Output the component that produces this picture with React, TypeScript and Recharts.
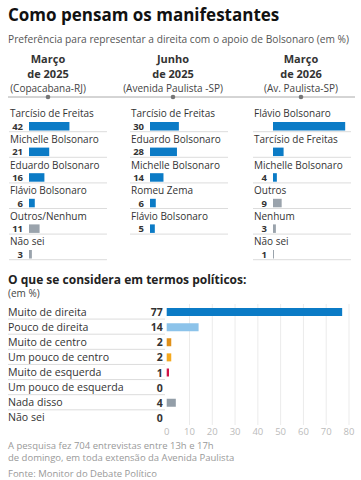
import React from "react";
import { BarChart, Bar, XAxis, YAxis, CartesianGrid, Cell } from "recharts";

// Pesquisas por ato
const periodMonths = ["Março", "Junho", "Março"];
const periodYears = ["de 2025", "de 2025", "de 2026"];
const periodPlaces = ["(Copacabana-RJ)", "(Avenida Paulista -SP)", "(Av. Paulista-SP)"];

const marchNames = ["Tarcísio de Freitas", "Michelle Bolsonaro", "Eduardo Bolsonaro", "Flávio Bolsonaro", "Outros/Nenhum", "Não sei"];
const marchValues = [42, 21, 16, 6, 11, 3];

const juneNames = ["Tarcísio de Freitas", "Eduardo Bolsonaro", "Michelle Bolsonaro", "Romeu Zema", "Flávio Bolsonaro"];
const juneValues = [30, 28, 14, 6, 5];

const march26Names = ["Flávio Bolsonaro", "Tarcísio de Freitas", "Michelle Bolsonaro", "Outros", "Nenhum", "Não sei"];
const march26Values = [75, 11, 4, 9, 3, 1];
// the two leading values are not printed in the original
const march26Printed = [false, false, true, true, true, true];

// Posicionamento político
const leaningNames = [
  "Muito de direita",
  "Pouco de direita",
  "Muito de centro",
  "Um pouco de centro",
  "Muito de esquerda",
  "Um pouco de esquerda",
  "Nada disso",
  "Não sei",
];
const leaningValues = [77, 14, 2, 2, 1, 0, 4, 0];
const axisTicks = [0, 10, 20, 30, 40, 50, 60, 70, 80];

const BLUE = "#0b7bc6";
const GRAY = "#9aa3ac";
const leaningColors = ["#0b7bc6", "#8cc3ea", "#e0901a", "#f5a91e", "#d11448", "#cccccc", "#939ea8", "#cccccc"];
const otherNames = ["Outros/Nenhum", "Outros", "Nenhum", "Não sei"];

const ROW = 25.6;
const FIRST_ROW = 112.5;

function CandidateRow(props: any) {
  const { x, y, width, height, payload } = props;
  const mid = y + height / 2;
  const fill = otherNames.includes(payload.name) ? GRAY : BLUE;
  return (
    <g>
      <text x={x - 19} y={mid - 12.8} fontSize={10} fill="#333" dominantBaseline="central">
        {payload.name}
      </text>
      {payload.printed && (
        <text x={x - 6} y={mid} fontSize={9.5} fontWeight={700} fill="#333" textAnchor="end" dominantBaseline="central">
          {payload.value}
        </text>
      )}
      <rect x={x} y={y} width={Math.max(width, 1)} height={height} fill={fill} />
      <line x1={x - 20} x2={x + 78} y1={y + height + 1.2} y2={y + height + 1.2} stroke="#dcdcdc" strokeWidth={1} />
    </g>
  );
}

function CandidateColumn({ names, values, printed, left, barStart }: any) {
  const data = names.map((name: string, i: number) => ({
    name,
    value: values[i],
    printed: printed ? printed[i] : true,
  }));
  const top = 14;
  const bottom = 4;
  const marginLeft = barStart - left;
  return (
    <div style={{ position: "absolute", left, top: FIRST_ROW - top }}>
      <BarChart
        layout="vertical"
        width={marginLeft + 77 + 6}
        height={top + bottom + ROW * data.length}
        data={data}
        margin={{ top, right: 6, bottom, left: marginLeft }}
      >
        <XAxis type="number" domain={[0, 80]} hide />
        <YAxis type="category" dataKey="name" hide />
        <Bar dataKey="value" barSize={8.5} isAnimationActive={false} shape={(p: any) => <CandidateRow {...p} />} />
      </BarChart>
    </div>
  );
}

// category name on the left, its value next to the bar (also printed for zeros)
function LeaningTick(props: any) {
  const { x, y, payload, index } = props;
  return (
    <g>
      <text x={8} y={y} fontSize={10.6} fill="#333" dominantBaseline="central">
        {payload.value}
      </text>
      <text x={x + 4} y={y + 0.5} fontSize={10.5} fontWeight={700} fill="#333" textAnchor="end" dominantBaseline="central">
        {leaningValues[index]}
      </text>
      {index < leaningNames.length - 1 && (
        <line x1={8} x2={165} y1={y + 7.5} y2={y + 7.5} stroke="#dcdcdc" strokeWidth={1} />
      )}
    </g>
  );
}

const colCenters = [48, 173, 301];

export default function App() {
  const leaningData = leaningNames.map((name, i) => ({ name, value: leaningValues[i] }));
  const abs = (top: number, left: number, extra: React.CSSProperties = {}): React.CSSProperties => ({
    position: "absolute",
    top,
    left,
    whiteSpace: "nowrap",
    ...extra,
  });
  const head: React.CSSProperties = {
    width: 120,
    textAlign: "center",
    fontSize: 11,
    fontWeight: 700,
    lineHeight: "15px",
    color: "#333",
  };

  return (
    <div
      style={{
        position: "relative",
        width: 361,
        height: 480,
        background: "#fff",
        fontFamily: "'Open Sans', sans-serif",
        color: "#333",
        overflow: "hidden",
      }}
    >
      <style>{"body{margin:0}"}</style>
      <div style={abs(4, 8, { fontSize: 17, fontWeight: 700, color: "#111", lineHeight: "22px" })}>
        Como pensam os manifestantes
      </div>
      <div style={abs(31.5, 8, { fontSize: 10.2, color: "#555", lineHeight: "14px" })}>
        Preferência para representar a direita com o apoio de Bolsonaro (em %)
      </div>

      {colCenters.map((cx, i) => (
        <React.Fragment key={i}>
          <div style={abs(51, cx - 60, head)}>{periodMonths[i]}</div>
          <div style={abs(66, cx - 60, head)}>{periodYears[i]}</div>
          <div style={abs(80.5, cx - 60, { width: 120, textAlign: "center", fontSize: 10, lineHeight: "14px", color: "#444" })}>
            {periodPlaces[i]}
          </div>
        </React.Fragment>
      ))}

      <svg style={abs(93, 0)} width={361} height={8}>
        <line x1={8} x2={355} y1={4} y2={4} stroke="#aaa" strokeWidth={1} />
        {colCenters.map((cx) => (
          <circle key={cx} cx={cx} cy={4} r={2.3} fill="#777" />
        ))}
      </svg>

      <CandidateColumn names={marchNames} values={marchValues} left={0} barStart={29} />
      <CandidateColumn names={juneNames} values={juneValues} left={122} barStart={150} />
      <CandidateColumn names={march26Names} values={march26Values} printed={march26Printed} left={247} barStart={273} />

      <div style={abs(271.5, 8, { fontSize: 12, fontWeight: 700, color: "#222", lineHeight: "16px" })}>
        O que se considera em termos políticos:
      </div>
      <div style={abs(286, 8, { fontSize: 10, color: "#444", lineHeight: "14px" })}>(em %)</div>

      <div style={abs(301.5, 0)}>
        <BarChart
          layout="vertical"
          width={361}
          height={139}
          data={leaningData}
          margin={{ top: 2, right: 12, bottom: 0, left: 8 }}
          barCategoryGap={0}
        >
          <CartesianGrid horizontal={false} vertical verticalValues={axisTicks.slice(1)} stroke="#ebebeb" />
          <XAxis
            type="number"
            domain={[0, 80]}
            ticks={axisTicks}
            axisLine={false}
            tickLine={false}
            tickSize={0}
            tickMargin={3}
            height={16}
            tick={{ fontSize: 9.5, fill: "#bbb" }}
          />
          <YAxis
            type="category"
            dataKey="name"
            width={158.7}
            axisLine={false}
            tickLine={false}
            tickSize={0}
            tickMargin={8}
            interval={0}
            tick={<LeaningTick />}
          />
          <Bar dataKey="value" barSize={8} isAnimationActive={false}>
            {leaningData.map((d, i) => (
              <Cell key={d.name} fill={leaningColors[i]} />
            ))}
          </Bar>
        </BarChart>
      </div>

      <div style={abs(440, 8, { fontSize: 9.5, color: "#999", lineHeight: "12px" })}>
        A pesquisa fez 704 entrevistas entre 13h e 17h
        <br />
        de domingo, em toda extensão da Avenida Paulista
      </div>
      <div style={abs(468, 8, { fontSize: 9.5, color: "#999", lineHeight: "12px" })}>
        Fonte: Monitor do Debate Político
      </div>
    </div>
  );
}
